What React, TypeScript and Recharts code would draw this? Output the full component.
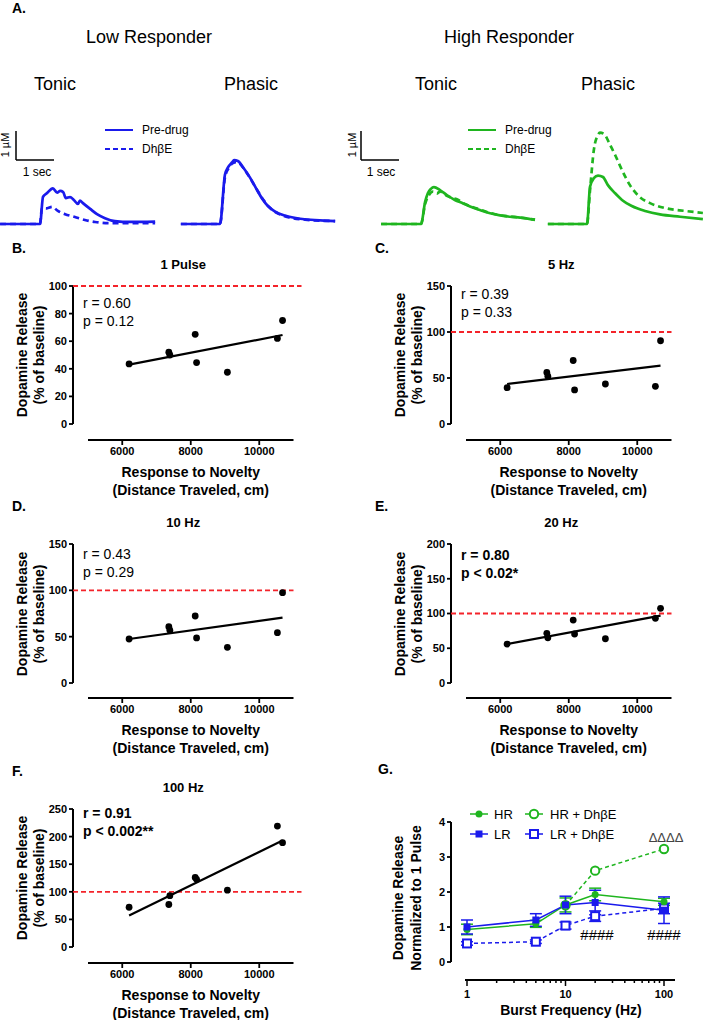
import React from 'react';
import {
  ComposedChart,
  LineChart,
  Line,
  Scatter,
  XAxis,
  YAxis,
  ReferenceLine,
  ErrorBar,
} from 'recharts';

const FONT = '"Liberation Sans", Arial, Helvetica, sans-serif';
const BLUE = '#1a1aec';
const GREEN = '#1fb51f';
const RED = '#f4232a';

// --- A: example traces, [seconds from stim onset, dopamine (µM)] ---
const lrTonicPre: [number, number][] = [
  [-1.05, 0], [0, 0], [0.08, 0.94], [0.18, 1.06], [0.34, 1.23], [0.45, 1.08], [0.53, 1.14],
  [0.61, 1.1], [0.68, 0.89], [0.79, 0.93], [0.89, 0.83], [1.0, 0.69], [1.05, 0.81], [1.13, 0.72],
  [1.32, 0.52], [1.5, 0.34], [1.71, 0.2], [1.97, 0.1], [2.37, 0.07], [3.03, 0.08],
];
const lrTonicDrug: [number, number][] = [
  [-1.05, 0], [0, 0], [0.05, 0.55], [0.18, 0.54], [0.32, 0.59], [0.47, 0.45], [0.66, 0.34],
  [0.92, 0.24], [1.18, 0.14], [1.45, 0.07], [1.84, 0.03], [3.03, 0.03],
];
const lrPhasicPre: [number, number][] = [
  [-1.03, 0], [0, 0], [0.13, 1.7], [0.21, 1.95], [0.32, 2.13], [0.37, 2.2], [0.47, 2.17],
  [0.61, 1.95], [0.79, 1.6], [0.95, 1.23], [1.11, 0.87], [1.26, 0.62], [1.45, 0.43],
  [1.71, 0.29], [2.11, 0.18], [3.03, 0.1],
];
const lrPhasicDrug: [number, number][] = [
  [-1.03, 0], [0, 0], [0.13, 1.6], [0.24, 1.95], [0.34, 2.1], [0.42, 2.13], [0.53, 2.07],
  [0.66, 1.85], [0.84, 1.48], [1.0, 1.12], [1.16, 0.8], [1.32, 0.55], [1.53, 0.36],
  [1.84, 0.22], [2.24, 0.15], [3.03, 0.1],
];
const hrTonicPre: [number, number][] = [
  [-1.05, 0], [0, 0], [0.11, 0.77], [0.18, 1.06], [0.26, 1.21], [0.34, 1.27], [0.5, 1.17],
  [0.68, 1.0], [0.89, 0.83], [1.11, 0.71], [1.29, 0.6], [1.55, 0.48], [1.82, 0.37],
  [2.08, 0.3], [2.34, 0.25], [2.61, 0.22], [3.0, 0.14],
];
const hrTonicDrug: [number, number][] = [
  [-1.05, 0], [0, 0], [0.11, 0.7], [0.21, 1.0], [0.32, 1.12], [0.42, 1.05], [0.5, 1.12],
  [0.68, 0.97], [0.82, 0.9], [0.97, 0.84], [1.11, 0.72], [1.29, 0.62], [1.55, 0.5],
  [1.82, 0.38], [2.08, 0.3], [2.34, 0.26], [2.61, 0.22], [3.0, 0.15],
];
const hrPhasicPre: [number, number][] = [
  [-1.03, 0], [0, 0], [0.08, 1.29], [0.18, 1.58], [0.29, 1.67], [0.42, 1.62], [0.55, 1.34],
  [0.74, 1.06], [0.92, 0.83], [1.18, 0.62], [1.53, 0.45], [1.92, 0.33], [2.45, 0.25], [3.05, 0.17],
];
const hrPhasicDrug: [number, number][] = [
  [-1.03, 0], [0, 0], [0.08, 1.17], [0.18, 2.55], [0.29, 3.07], [0.34, 3.15], [0.45, 3.1],
  [0.61, 2.72], [0.74, 2.38], [0.92, 1.86], [1.13, 1.34], [1.39, 0.93], [1.66, 0.72],
  [2.05, 0.55], [2.58, 0.45], [3.05, 0.38],
];

// --- B-F: release vs novelty response ---
const noveltyDistance = [6200, 7360, 7390, 8130, 8170, 9070, 10530, 10680];
const release1Pulse = [43.5, 52, 50, 65, 44.5, 37.5, 62, 75];
const release5Hz = [39.5, 56, 52, 69, 37, 43.5, 41, 90.5];
const release10Hz = [47.5, 60.8, 57, 72.3, 48.6, 38.5, 54.3, 97.5];
const release20Hz = [56, 71.5, 65, 90.6, 70.5, 63.7, 93, 107.5];
const release100Hz = [72, 77, 93, 126, 122.6, 103, 219, 189];
const fitRange = [6200, 10680];
const fit1Pulse = [43, 64.5];
const fit5Hz = [43.5, 63.5];
const fit10Hz = [47.5, 70.5];
const fit20Hz = [56, 97];
const fit100Hz = [57, 193];
const noveltyTicks = [6000, 8000, 10000];

// --- G: frequency response ---
const burstFreq = [1, 5, 10, 20, 100];
const hrMean = [0.93, 1.09, 1.63, 1.93, 1.72];
const hrSem = [0.15, 0.1, 0.2, 0.18, 0.1];
const lrMean = [1.0, 1.2, 1.63, 1.7, 1.48];
const lrSem = [0.2, 0.18, 0.25, 0.35, 0.38];
const hrDrugMean = [null, null, 1.62, 2.61, 3.23];
const lrDrugMean = [0.53, 0.58, 1.04, 1.31, 1.53];
const lrDrugSem = [0.05, 0.05, 0.1, 0.15, 0.15];
const freqTicks = [1, 2, 3, 4, 5, 6, 7, 8, 9, 10, 20, 30, 40, 50, 60, 70, 80, 90, 100];

const freqData = burstFreq.map((f, i) => ({
  f,
  hr: hrMean[i],
  hrErr: hrSem[i],
  lr: lrMean[i],
  lrErr: lrSem[i],
  hrD: hrDrugMean[i],
  lrD: lrDrugMean[i],
  lrDErr: lrDrugSem[i],
}));

const Txt = ({ x, y, children, size = 14, bold = false, rotate = false, anchor = 'middle', color = '#000' }: any) => {
  const tx = anchor === 'middle' ? '-50%' : anchor === 'start' ? '0' : '-100%';
  return (
    <div
      style={{
        position: 'absolute',
        left: x,
        top: y,
        transform: rotate ? 'translate(-50%,-50%) rotate(-90deg)' : `translate(${tx},-50%)`,
        fontSize: size,
        fontWeight: bold ? 700 : 400,
        whiteSpace: 'nowrap',
        lineHeight: 1,
        fontFamily: FONT,
        color,
      }}
    >
      {children}
    </div>
  );
};

// traces share one scale: 38 px per second, 29 px per µM
const PX_SEC = 38;
const PX_UM = 29;
const TR_TOP = 120;
const TR_H = 110;
const TR_BASE = 224;

const toPts = (arr: [number, number][]) => arr.map(([t, v]) => ({ t, v }));

const TraceChart = ({ left, width, onset, color, pre, drug, bar }: any) => {
  const xDomain = [-(onset - left) / PX_SEC, (left + width - onset) / PX_SEC];
  const yDomain = [-(TR_TOP + TR_H - TR_BASE) / PX_UM, (TR_BASE - TR_TOP) / PX_UM];
  return (
    <div style={{ position: 'absolute', left, top: TR_TOP }}>
      <LineChart width={width} height={TR_H} margin={{ top: 0, right: 0, bottom: 0, left: 0 }}>
        <XAxis type="number" dataKey="t" domain={xDomain} hide allowDataOverflow />
        <YAxis type="number" domain={yDomain} hide allowDataOverflow />
        {bar && (
          <ReferenceLine
            segment={[{ x: bar[0], y: bar[1] + 1 }, { x: bar[0], y: bar[1] }]}
            stroke="#000"
            strokeWidth={1.5}
          />
        )}
        {bar && (
          <ReferenceLine
            segment={[{ x: bar[0], y: bar[1] }, { x: bar[0] + 1, y: bar[1] }]}
            stroke="#000"
            strokeWidth={1.5}
          />
        )}
        <Line data={toPts(drug)} dataKey="v" type="monotone" stroke={color} strokeWidth={2.7}
          strokeDasharray="6 4" dot={false} isAnimationActive={false} />
        <Line data={toPts(pre)} dataKey="v" type="monotone" stroke={color} strokeWidth={2.7}
          dot={false} isAnimationActive={false} />
      </LineChart>
    </div>
  );
};

// correlation panel scale: 68.5 px per 2000 cm
const PX_X = 68.5 / 2000;
const AX_MIN = 5000;
const AX_MAX = 11000;
const AX_GAP = 15;
const tickStyle = { fontSize: 11, fontWeight: 700, fill: '#000', fontFamily: FONT };

const CorrPanel = (props: any) => {
  const { colX, letterX, plotTop, zeroY, axisY, yMax, yTicks, values, fit, title, letter, r, p, bold, statDy, redExtra } = props;
  const plotLeft = colX + 73;
  const axisLen = (AX_MAX - AX_MIN) * PX_X;
  const plotRight = plotLeft + AX_GAP + axisLen + redExtra;
  const xDomain = [AX_MIN - AX_GAP / PX_X, AX_MAX + redExtra / PX_X];
  const pxY = (zeroY - plotTop) / yMax;
  const yMin = -(axisY - zeroY) / pxY;
  const pts = noveltyDistance.map((x, i) => ({ x, y: values[i] }));
  const fitPts = fitRange.map((x, i) => ({ x, y: fit[i] }));
  const midY = (plotTop + zeroY) / 2;
  const axisMidX = plotLeft + AX_GAP + axisLen / 2;
  return (
    <>
      <Txt x={letterX} y={plotTop - 38} bold size={14} anchor="start">{letter}</Txt>
      <Txt x={(plotLeft + plotLeft + AX_GAP + axisLen) / 2} y={plotTop - 22} bold size={13}>{title}</Txt>
      <div style={{ position: 'absolute', left: colX, top: plotTop - 10 }}>
        <ComposedChart
          width={plotRight - colX}
          height={axisY - plotTop + 40}
          margin={{ top: 10, right: 0, bottom: 0, left: 0 }}
        >
          <XAxis type="number" dataKey="x" domain={xDomain} ticks={noveltyTicks} allowDataOverflow
            axisLine={false} tickLine={{ stroke: '#000', strokeWidth: 1.8 }} tickSize={5}
            tick={tickStyle} height={30} />
          <YAxis type="number" dataKey="y" domain={[yMin, yMax]} ticks={yTicks} allowDataOverflow
            axisLine={false} tickLine={{ stroke: '#000', strokeWidth: 1.8 }} tickSize={4} tickMargin={2}
            tick={tickStyle} width={73} />
          <ReferenceLine segment={[{ x: AX_MIN, y: yMin }, { x: AX_MAX, y: yMin }]} stroke="#000" strokeWidth={2} />
          <ReferenceLine segment={[{ x: xDomain[0], y: 0 }, { x: xDomain[0], y: yMax }]} stroke="#000" strokeWidth={2} />
          <ReferenceLine y={100} stroke={RED} strokeWidth={1.8} strokeDasharray="5 3" />
          <Line data={fitPts} dataKey="y" type="linear" stroke="#000" strokeWidth={2.2} dot={false} isAnimationActive={false} />
          <Scatter data={pts} dataKey="y" isAnimationActive={false}
            shape={(s: any) => <circle cx={s.cx} cy={s.cy} r={3.4} fill="#000" />} />
        </ComposedChart>
      </div>
      <Txt x={plotLeft + 10} y={plotTop + statDy} size={14} bold={bold} anchor="start">{r}</Txt>
      <Txt x={plotLeft + 10} y={plotTop + statDy + 18} size={14} bold={bold} anchor="start">{p}</Txt>
      <Txt x={colX + 22} y={midY} size={14} bold rotate>Dopamine Release</Txt>
      <Txt x={colX + 38.5} y={midY} size={14} bold rotate>(% of baseline)</Txt>
      <Txt x={axisMidX} y={axisY + 32} size={14} bold>Response to Novelty</Txt>
      <Txt x={axisMidX} y={axisY + 50} size={14} bold>(Distance Traveled, cm)</Txt>
    </>
  );
};

// marker shapes for panel G
const filledCircle = (color: string) => (d: any) =>
  d.cy == null ? <g key={d.index} /> : <circle key={d.index} cx={d.cx} cy={d.cy} r={3.5} fill={color} />;
const openCircle = (color: string) => (d: any) =>
  d.cy == null ? <g key={d.index} /> : <circle key={d.index} cx={d.cx} cy={d.cy} r={4.2} fill="#fff" stroke={color} strokeWidth={2} />;
const filledSquare = (color: string) => (d: any) =>
  d.cy == null ? <g key={d.index} /> : <rect key={d.index} x={d.cx - 3.5} y={d.cy - 3.5} width={7} height={7} fill={color} />;
const openSquare = (color: string) => (d: any) =>
  d.cy == null ? <g key={d.index} /> : <rect key={d.index} x={d.cx - 4} y={d.cy - 4} width={8} height={8} fill="#fff" stroke={color} strokeWidth={2} />;

const LogTick = ({ x, y, payload }: any) => {
  const major = [1, 10, 100].includes(payload.value);
  return (
    <g>
      <line x1={x} x2={x} y1={y} y2={y + (major ? 6 : 3)} stroke="#000" strokeWidth={1.5} />
      {major && (
        <text x={x} y={y + 18} textAnchor="middle" style={tickStyle}>{payload.value}</text>
      )}
    </g>
  );
};

// panel G geometry: 98.5 px per decade, 1 Hz at x=467, y 0 at 962, 35 px per unit
const G_LEFT = 451;
const G_ONE = 467;
const G_RIGHT = 675;
const G_DEC = 98.5;
const G_TOP = 822;
const G_ZERO = 962;
const G_AXIS = 980;

const FreqPanel = () => {
  const xDomain = [Math.pow(10, -(G_ONE - G_LEFT) / G_DEC), Math.pow(10, (G_RIGHT - G_ONE) / G_DEC)];
  const axisStart = Math.pow(10, -(G_ONE - 465) / G_DEC);
  const pxY = (G_ZERO - G_TOP) / 4;
  const yMin = -(G_AXIS - G_ZERO) / pxY;
  const chartLeft = 380;
  return (
    <>
      <Txt x={378} y={769} bold size={14} anchor="start">G.</Txt>
      <div style={{ position: 'absolute', left: chartLeft, top: G_TOP - 10 }}>
        <ComposedChart
          width={G_RIGHT - chartLeft}
          height={G_AXIS - G_TOP + 40}
          data={freqData}
          margin={{ top: 10, right: 0, bottom: 0, left: 0 }}
        >
          <XAxis type="number" dataKey="f" scale="log" domain={xDomain} ticks={freqTicks} allowDataOverflow
            axisLine={false} tickLine={false} tickSize={0} tickMargin={0} tick={<LogTick />} height={30}
            interval={0} />
          <YAxis type="number" domain={[yMin, 4]} ticks={[0, 1, 2, 3, 4]} allowDataOverflow
            axisLine={false} tickLine={{ stroke: '#000', strokeWidth: 1.8 }} tickSize={4} tickMargin={2}
            tick={tickStyle} width={G_LEFT - chartLeft} />
          <ReferenceLine segment={[{ x: axisStart, y: yMin }, { x: xDomain[1], y: yMin }]} stroke="#000" strokeWidth={2} />
          <ReferenceLine segment={[{ x: xDomain[0], y: 0 }, { x: xDomain[0], y: 4 }]} stroke="#000" strokeWidth={2} />
          <Line dataKey="lrD" type="linear" stroke={BLUE} strokeWidth={1.5} strokeDasharray="4 3"
            dot={openSquare(BLUE)} isAnimationActive={false}>
            <ErrorBar dataKey="lrDErr" width={6} stroke={BLUE} strokeWidth={1.5} direction="y" />
          </Line>
          <Line dataKey="hrD" type="linear" stroke={GREEN} strokeWidth={1.5} strokeDasharray="4 3"
            dot={openCircle(GREEN)} isAnimationActive={false} connectNulls={false} />
          <Line dataKey="hr" type="linear" stroke={GREEN} strokeWidth={1.5}
            dot={filledCircle(GREEN)} isAnimationActive={false}>
            <ErrorBar dataKey="hrErr" width={6} stroke={GREEN} strokeWidth={1.5} direction="y" />
          </Line>
          <Line dataKey="lr" type="linear" stroke={BLUE} strokeWidth={1.5}
            dot={filledSquare(BLUE)} isAnimationActive={false}>
            <ErrorBar dataKey="lrErr" width={6} stroke={BLUE} strokeWidth={1.5} direction="y" />
          </Line>
        </ComposedChart>
      </div>
      <Txt x={398} y={898} size={14} bold rotate>Dopamine Release</Txt>
      <Txt x={416} y={898} size={14} bold rotate>Normalized to 1 Pulse</Txt>
      <Txt x={571} y={1010} size={14} bold>Burst Frequency (Hz)</Txt>
      <Txt x={666} y={837} size={13} color="#444">ΔΔΔΔ</Txt>
      <Txt x={597} y={934} size={15}>####</Txt>
      <Txt x={664} y={934} size={15}>####</Txt>
      {/* legend */}
      <svg style={{ position: 'absolute', left: 0, top: 0 }} width={703} height={1020} pointerEvents="none">
        <line x1={470} x2={488} y1={814} y2={814} stroke={GREEN} strokeWidth={1.5} />
        {filledCircle(GREEN)({ cx: 479, cy: 814, index: 0 })}
        <line x1={470} x2={488} y1={834} y2={834} stroke={BLUE} strokeWidth={1.5} />
        {filledSquare(BLUE)({ cx: 479, cy: 834, index: 1 })}
        <line x1={525} x2={544} y1={814} y2={814} stroke={GREEN} strokeWidth={1.5} strokeDasharray="4 3" />
        {openCircle(GREEN)({ cx: 534, cy: 814, index: 2 })}
        <line x1={525} x2={544} y1={834} y2={834} stroke={BLUE} strokeWidth={1.5} strokeDasharray="4 3" />
        {openSquare(BLUE)({ cx: 534, cy: 834, index: 3 })}
      </svg>
      <Txt x={494} y={814} size={13} anchor="start">HR</Txt>
      <Txt x={494} y={834} size={13} anchor="start">LR</Txt>
      <Txt x={550} y={814} size={13} anchor="start">HR + DhβE</Txt>
      <Txt x={550} y={834} size={13} anchor="start">LR + DhβE</Txt>
    </>
  );
};

const TraceKey = ({ x, textX, color }: any) => (
  <>
    <svg style={{ position: 'absolute', left: 0, top: 0 }} width={703} height={240} pointerEvents="none">
      <line x1={x} x2={x + 28} y1={130} y2={130} stroke={color} strokeWidth={2} />
      <line x1={x} x2={x + 28} y1={149} y2={149} stroke={color} strokeWidth={2} strokeDasharray="5 3" />
    </svg>
    <Txt x={textX} y={130} size={12} anchor="start">Pre-drug</Txt>
    <Txt x={textX} y={149} size={12} anchor="start">DhβE</Txt>
  </>
);

export default function App() {
  return (
    <div
      style={{
        position: 'absolute',
        left: 0,
        top: 0,
        width: 703,
        height: 1020,
        background: '#fff',
        overflow: 'hidden',
        fontFamily: FONT,
      }}
    >
      {/* A */}
      <Txt x={12} y={8} bold size={14} anchor="start">A.</Txt>
      <Txt x={149} y={37} size={18}>Low Responder</Txt>
      <Txt x={509} y={37} size={18}>High Responder</Txt>
      <Txt x={55} y={84} size={18}>Tonic</Txt>
      <Txt x={251} y={84} size={18}>Phasic</Txt>
      <Txt x={436} y={84} size={18}>Tonic</Txt>
      <Txt x={608} y={84} size={18}>Phasic</Txt>
      <TraceKey x={105} textX={142} color={BLUE} />
      <TraceKey x={468} textX={505} color={GREEN} />
      <Txt x={5} y={145} size={11} rotate>1 µM</Txt>
      <Txt x={37} y={172} size={12}>1 sec</Txt>
      <Txt x={352} y={145} size={11} rotate>1 µM</Txt>
      <Txt x={381} y={172} size={12}>1 sec</Txt>
      <TraceChart left={0} width={165} onset={40} color={BLUE} pre={lrTonicPre} drug={lrTonicDrug}
        bar={[(16 - 40) / PX_SEC, (TR_BASE - 160) / PX_UM]} />
      <TraceChart left={176} width={164} onset={220} color={BLUE} pre={lrPhasicPre} drug={lrPhasicDrug} />
      <TraceChart left={355} width={185} onset={421} color={GREEN} pre={hrTonicPre} drug={hrTonicDrug}
        bar={[(361 - 421) / PX_SEC, (TR_BASE - 160) / PX_UM]} />
      <TraceChart left={545} width={158} onset={587} color={GREEN} pre={hrPhasicPre} drug={hrPhasicDrug} />

      {/* B-F */}
      <CorrPanel colX={0} letterX={12} letter="B." title="1 Pulse" plotTop={286} zeroY={424} axisY={440}
        yMax={100} yTicks={[0, 20, 40, 60, 80, 100]} values={release1Pulse} fit={fit1Pulse}
        r="r = 0.60" p="p = 0.12" bold={false} statDy={17} redExtra={8} />
      <CorrPanel colX={378} letterX={375} letter="C." title="5 Hz" plotTop={286} zeroY={424} axisY={440}
        yMax={150} yTicks={[0, 50, 100, 150]} values={release5Hz} fit={fit5Hz}
        r="r = 0.39" p="p = 0.33" bold={false} statDy={8} redExtra={0} />
      <CorrPanel colX={0} letterX={12} letter="D." title="10 Hz" plotTop={544} zeroY={683} axisY={698}
        yMax={150} yTicks={[0, 50, 100, 150]} values={release10Hz} fit={fit10Hz}
        r="r = 0.43" p="p = 0.29" bold={false} statDy={10} redExtra={0} />
      <CorrPanel colX={378} letterX={375} letter="E." title="20 Hz" plotTop={544} zeroY={683} axisY={698}
        yMax={200} yTicks={[0, 50, 100, 150, 200]} values={release20Hz} fit={fit20Hz}
        r="r = 0.80" p="p < 0.02*" bold statDy={11} redExtra={0} />
      <CorrPanel colX={0} letterX={12} letter="F." title="100 Hz" plotTop={809} zeroY={947} axisY={963}
        yMax={250} yTicks={[0, 50, 100, 150, 200, 250]} values={release100Hz} fit={fit100Hz}
        r="r = 0.91" p="p < 0.002**" bold statDy={4} redExtra={8} />

      {/* G */}
      <FreqPanel />
    </div>
  );
}
